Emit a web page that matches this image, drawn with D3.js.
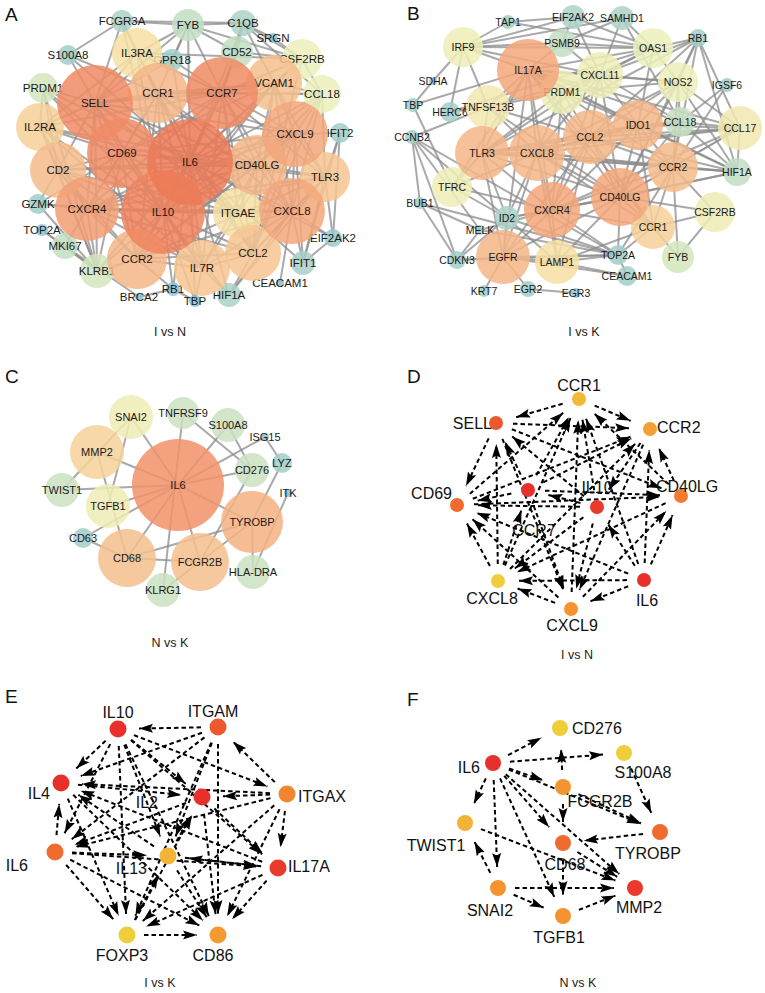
<!DOCTYPE html>
<html><head><meta charset="utf-8">
<script src="https://cdn.jsdelivr.net/npm/d3@7"></script>
<style>body{margin:0;background:#fff} svg{display:block}</style>
</head><body><svg id="c" width="765" height="993"></svg>
<script>
// ================= DATA =================
// Panel A — PPI network, I vs N : [gene, degree, colour tone]
const nodesA = [
["FCGR3A",8,1.3],["FYB",13,2],["C1QB",10,1.3],["SRGN",2,0],["S100A8",7,1],["IL3RA",22,5],["GPR18",8,1],
["CD52",13,2],["CSF2RB",17,4],["PRDM1",12,3],["SELL",35,8],["CCR1",27,6.5],["CCR7",33,8],["VCAM1",25,6.2],
["CCL18",16,4],["IL2RA",21,5.6],["CXCL9",30,7],["IFIT2",7,1],["CD69",32,8],["IL6",40,9],["CD40LG",27,6.5],
["CD2",25,6.3],["TLR3",22,6],["GZMK",7,1],["CXCR4",29,7.3],["IL10",39,8.5],["ITGAE",22,5],["CXCL8",30,7],
["TOP2A",3,0],["EIF2AK2",6,0.6],["MKI67",10,2],["CCR2",27,6.5],["IL7R",25,6],["CCL2",25,6],["IFIT1",9,1.2],
["KLRB1",14,3],["CEACAM1",1,0],["BRCA2",1,0],["RB1",4,0],["TBP",3,0],["HIF1A",9,1.3]];
const edgesA = [
"IL6>SELL CCR1 CCR7 VCAM1 CXCL9 CD69 CD40LG CD2 TLR3 CXCR4 IL10 ITGAE CXCL8 CCR2 IL7R CCL2 IL2RA IL3RA CCL18 CD52 FYB HIF1A RB1 TBP KLRB1 CSF2RB PRDM1 GPR18 IFIT1 EIF2AK2 S100A8 C1QB",
"IL10>SELL CCR1 CCR7 VCAM1 CXCL9 CD69 CD40LG CD2 TLR3 CXCR4 ITGAE CXCL8 CCR2 IL7R CCL2 IL2RA IL3RA CCL18 KLRB1 GZMK PRDM1 FCGR3A TBP RB1 HIF1A",
"SELL>CCR1 CCR7 CD69 CD2 CXCR4 CCR2 IL7R IL2RA IL3RA FCGR3A FYB S100A8 PRDM1 ITGAE CXCL9 CD40LG VCAM1 KLRB1 GPR18",
"CCR7>CCR1 VCAM1 CXCL9 CD69 CD40LG CXCR4 ITGAE CXCL8 CCR2 IL7R CCL2 IL2RA IL3RA CCL18 C1QB CD52 FYB GPR18 CSF2RB TLR3",
"CD69>CCR1 CD2 CXCR4 CD40LG ITGAE CCR2 IL7R IL2RA KLRB1 PRDM1 CXCL9 VCAM1 GZMK",
"CXCL9>CCR1 VCAM1 CD40LG TLR3 CXCL8 CCL2 CCL18 IFIT1 IFIT2 CXCR4 ITGAE CCR2",
"CXCL8>CCR1 VCAM1 CD40LG TLR3 CCL2 CCR2 CXCR4 EIF2AK2 IFIT1 CEACAM1 IL7R ITGAE CCL18 HIF1A",
"CXCR4>CCR1 CD2 CCR2 CD40LG IL7R CCL2 GZMK MKI67 KLRB1 IL2RA ITGAE TLR3",
"CCR1>VCAM1 CD40LG CCR2 CCL2 IL3RA FYB S100A8 FCGR3A CCL18 IL7R",
"CCR2>CD40LG CCL2 IL7R CD2 KLRB1 RB1 TLR3 VCAM1",
"CD40LG>VCAM1 TLR3 ITGAE CCL2 IL7R CD2 IL2RA CCL18",
"TLR3>IFIT1 IFIT2 EIF2AK2 HIF1A CCL2 VCAM1 CCL18",
"CCL2>IL7R ITGAE VCAM1 HIF1A CCL18 CSF2RB",
"IL7R>ITGAE CD2 IL2RA HIF1A TBP",
"CD2>IL2RA KLRB1 GZMK PRDM1 ITGAE",
"VCAM1>CCL18 CSF2RB C1QB",
"IL2RA>PRDM1 IL3RA KLRB1",
"IL3RA>FYB FCGR3A GPR18 CSF2RB",
"FYB>FCGR3A C1QB CD52 GPR18 CSF2RB",
"C1QB>FCGR3A SRGN CD52 CSF2RB CCL18",
"CSF2RB>SRGN CCL18 CD52",
"FCGR3A>S100A8","PRDM1>KLRB1","KLRB1>MKI67 TOP2A GZMK","MKI67>TOP2A BRCA2",
"IFIT1>IFIT2 EIF2AK2","IFIT2>EIF2AK2","RB1>TBP BRCA2"];
const layoutA = {FCGR3A:[122,21],FYB:[188,25],C1QB:[243,23],SRGN:[273,38],S100A8:[68,55],IL3RA:[137,53],GPR18:[172,60],
CD52:[237,52],CSF2RB:[302,59],PRDM1:[43,88],SELL:[95,103],CCR1:[158,93],CCR7:[222,93],VCAM1:[274,83],CCL18:[322,94],
IL2RA:[40,127],CXCL9:[295,134],IFIT2:[340,133],CD69:[122,153],IL6:[190,162],CD40LG:[257,165],CD2:[58,170],TLR3:[325,177],
GZMK:[38,204],CXCR4:[87,209],IL10:[163,212],ITGAE:[238,213],CXCL8:[292,211],TOP2A:[42,230],EIF2AK2:[333,238],MKI67:[65,246],
CCR2:[137,259],IL7R:[202,268],CCL2:[253,253],IFIT1:[303,263],KLRB1:[97,271],CEACAM1:[280,283],BRCA2:[139,297],RB1:[173,289],
TBP:[195,301],HIF1A:[229,295]};

// Panel B — PPI network, I vs K
const nodesB = [
["TAP1",4,1],["EIF2AK2",9,1.3],["SAMHD1",9,1.3],["IRF9",17,4.2],["PSMB9",11,2],["OAS1",17,4],["RB1",6,1],
["SDHA",1,0.5],["CXCL11",20,4.2],["PRDM1",19,4.2],["IL17A",28,7],["NOS2",17,4],["IGSF6",4,1],["TBP",4,1],["HERC6",7,1],
["TNFSF13B",19,4.5],["IDO1",22,6.5],["CCL18",12,2.2],["CCL17",19,4.5],["CCNB2",4,1],["TLR3",24,6.5],["CXCL8",25,6.5],
["CCL2",24,6.5],["CCR2",22,6.3],["HIF1A",11,2],["TFRC",17,4.2],["BUB1",3,1],["CD40LG",26,7],["CXCR4",25,7],
["CSF2RB",17,4.3],["ID2",9,1.3],["MELK",2,0.5],["CCR1",19,5.6],["EGFR",24,6.5],["LAMP1",19,5],["TOP2A",7,1],
["FYB",13,3],["CDKN3",6,1],["CEACAM1",7,1],["KRT7",3,1],["EGR2",5,1],["EGR3",2,0.5]];
const edgesB = [
"IL17A>TBP CXCL8 TLR3 CCL2 CXCR4 CD40LG IDO1 CCR2 CXCL11 PRDM1 TNFSF13B NOS2 IRF9 PSMB9 CCL17 HIF1A CCL18 EGFR TFRC CCR1 OAS1",
"CD40LG>CXCL8 TLR3 CCL2 CXCR4 IDO1 CCR2 CCR1 CCL17 CCL18 HIF1A CXCL11 NOS2 EGFR LAMP1 ID2 TOP2A TNFSF13B CSF2RB RB1",
"CXCR4>CXCL8 TLR3 CCL2 IDO1 CCR2 CCR1 EGFR LAMP1 ID2 TOP2A TFRC CXCL11 PRDM1 CCL17 HIF1A MELK",
"CXCL8>TLR3 CCL2 IDO1 CCR2 CCR1 EGFR LAMP1 ID2 TFRC CXCL11 PRDM1 TNFSF13B CCL17 HIF1A NOS2",
"CCL2>TLR3 IDO1 CCR2 CCR1 CXCL11 PRDM1 NOS2 CCL17 CCL18 HIF1A EGFR RB1 TNFSF13B LAMP1",
"TLR3>IDO1 CCR2 CXCL11 PRDM1 TNFSF13B TFRC EGFR ID2 CCL17 RB1 HIF1A",
"IDO1>CCR2 CXCL11 NOS2 CCL18 CCL17 PRDM1 OAS1 HIF1A CCR1",
"CCR2>CCR1 CCL17 CCL18 HIF1A CSF2RB TOP2A RB1 NOS2 FYB IGSF6",
"CXCL11>OAS1 PSMB9 NOS2 PRDM1 IRF9 EIF2AK2 SAMHD1 RB1 CCL18 TNFSF13B",
"PRDM1>TNFSF13B NOS2 OAS1","NOS2>OAS1 CCL18 CCL17 RB1 HIF1A",
"OAS1>IRF9 PSMB9 EIF2AK2 SAMHD1 TAP1 RB1 HERC6",
"IRF9>PSMB9 TAP1 EIF2AK2 SAMHD1 SDHA HERC6 TNFSF13B",
"EIF2AK2>TAP1 PSMB9","SAMHD1>PSMB9 CCL18","CCL17>HIF1A CCL18","CCL18>HIF1A IGSF6","RB1>HIF1A CCL17",
"CCR1>CSF2RB FYB LAMP1 TOP2A","CSF2RB>FYB",
"EGFR>LAMP1 TOP2A ID2 CDKN3 KRT7 EGR2 CEACAM1","LAMP1>TOP2A CEACAM1 ID2",
"TOP2A>CCNB2 BUB1 CDKN3 MELK CEACAM1 ID2","CCNB2>BUB1 CDKN3 MELK TNFSF13B ID2",
"BUB1>CDKN3 MELK","CDKN3>MELK ID2","TBP>SDHA TFRC","EGR2>EGR3","TFRC>ID2","HERC6>TNFSF13B"];
const layoutB = {TAP1:[123,22],EIF2AK2:[188,17],SAMHD1:[237,18],IRF9:[78,47],PSMB9:[177,43],IL17A:[143,70],OAS1:[268,48],
RB1:[313,38],SDHA:[48,81],CXCL11:[215,75],PRDM1:[177,92],NOS2:[293,82],IGSF6:[342,85],TBP:[28,105],HERC6:[65,112],
TNFSF13B:[103,107],IDO1:[253,125],CCL18:[295,122],CCL17:[355,128],CCNB2:[27,137],TLR3:[97,153],CXCL8:[152,153],
CCL2:[205,137],CCR2:[288,167],HIF1A:[352,172],TFRC:[67,187],BUB1:[35,203],CD40LG:[235,197],CXCR4:[167,210],
CSF2RB:[330,212],ID2:[122,218],MELK:[95,230],CCR1:[268,227],EGFR:[118,257],LAMP1:[172,262],TOP2A:[233,255],
FYB:[293,257],CDKN3:[72,260],CEACAM1:[242,276],KRT7:[99,291],EGR2:[143,289],EGR3:[191,293]};

// Panel C — PPI network, N vs K
const nodesC = [
["SNAI2",19,4.3],["TNFRSF9",13,2.5],["S100A8",14,2.5],["ISG15",1,0],["MMP2",24,5.5],["LYZ",7,1],["CD276",14,2.5],
["IL6",43,7.8],["TWIST1",14,2.5],["TGFB1",19,4.3],["ITK",1,0],["TYROBP",28,6.6],["CD63",7,1],["CD68",26,6.2],
["HLA-DRA",14,2.5],["FCGR2B",26,6.2],["KLRG1",14,2.5]];
const edgesC = [
"IL6>SNAI2 MMP2 TWIST1 TGFB1 CD63 TYROBP CD68 FCGR2B S100A8 ISG15 CD276",
"SNAI2>TGFB1 TWIST1","MMP2>CD68","TNFRSF9>KLRG1 CD276","S100A8>CD276","ISG15>LYZ","LYZ>TYROBP",
"CD276>FCGR2B","ITK>HLA-DRA","CD68>TYROBP FCGR2B CD63","TYROBP>HLA-DRA KLRG1"];
const layoutC = {SNAI2:[131,87],TNFRSF9:[183,83],S100A8:[228,95],ISG15:[265,107],MMP2:[97,122],LYZ:[282,133],
CD276:[252,140],IL6:[178,155],TWIST1:[62,160],TGFB1:[108,176],ITK:[288,163],TYROBP:[252,192],CD63:[83,208],
CD68:[127,228],FCGR2B:[200,232],"HLA-DRA":[253,242],KLRG1:[163,260]};

// Panels D–F — directed regulatory networks : [gene, score]
const nodesD = [["CCR1",0.15],["SELL",0.8],["CCR2",0.35],["CD69",0.7],["CCR7",1],["IL10",0.95],
["CD40LG",0.6],["CXCL8",0],["IL6",1],["CXCL9",0.45]];
const edgesD = [
"CCR1>SELL CCR2","CCR7>CCR1 CCR2 CD40LG SELL CD69 CXCL9","IL10>CCR1 SELL CD69 CXCL8 CXCL9 CCR7",
"CXCL9>CCR1 CD40LG CD69 CXCL8","CXCL8>CCR1 CCR2 SELL CD69 CCR7",
"IL6>CCR1 CCR2 CD40LG CD69 CXCL8 CXCL9 IL10","CD69>CCR1 CCR2 CD40LG",
"CD40LG>CCR1 CCR2 CD69 CXCL8","SELL>CCR2 CD69 CXCL9 CD40LG",
"CCR2>CD69 CXCL9 IL10","CXCL9>SELL"];
const nodesE = [["IL10",1],["ITGAM",0.8],["IL4",1],["IL2",1],["ITGAX",0.55],["IL6",0.7],["IL13",0.2],
["IL17A",0.95],["FOXP3",0],["CD86",0.4]];
const edgesE = [
"ITGAM>IL10 IL4 IL6 IL13 CD86 FOXP3","IL10>IL4 IL2 ITGAX FOXP3 IL13 IL17A CD86 IL6",
"ITGAX>ITGAM IL2 IL17A IL4 IL6 CD86 FOXP3","IL4>IL2 CD86 FOXP3","IL6>IL4 FOXP3 IL13 CD86 IL17A",
"IL2>IL17A CD86 IL6","IL13>IL17A IL2 IL4 CD86","IL17A>IL13 IL4 IL6 CD86 FOXP3","FOXP3>CD86 IL13 IL2","CD86>IL2 IL4"];
const bidirectionalE = ["IL13|IL17A"];
const nodesF = [["CD276",0],["IL6",1],["S100A8",0],["FCGR2B",0.45],["TWIST1",0.2],["TYROBP",0.7],
["CD68",0.7],["SNAI2",0.45],["MMP2",0.95],["TGFB1",0.45]];
const edgesF = [
"IL6>CD276 S100A8 FCGR2B TWIST1 SNAI2 TGFB1 CD68 MMP2 TYROBP","FCGR2B>CD276 CD68 TYROBP",
"S100A8>TYROBP","TYROBP>CD68","CD68>MMP2 TGFB1","TWIST1>MMP2","SNAI2>TWIST1 MMP2 TGFB1","TGFB1>MMP2"];

// layouts for D–F: position and label placement [x, y, anchor, dx, dy]
const layoutD = {CCR1:[194,69,"middle",0,-14],SELL:[111,93,"end",-4,0],CCR2:[265,99,"start",7,-2],
CD69:[72,175,"end",-5,-12],CCR7:[143,160,"middle",6,40],IL10:[212,177,"middle",0,-20],CD40LG:[296,166,"middle",6,-10],
CXCL8:[113,251,"middle",-6,17],IL6:[259,250,"middle",3,20],CXCL9:[186,279,"middle",1,16]};
const layoutE = {IL10:[118,79,"middle",0,-17],ITGAM:[218,77,"middle",-5,-16],IL4:[61,133,"end",-11,10],
IL2:[202,147,"end",-44,5],ITGAX:[287,144,"start",11,2],IL6:[55,202,"end",-27,13],IL13:[168,206,"end",-21,12],
IL17A:[278,218,"start",10,-2],FOXP3:[127,285,"middle",-5,20],CD86:[218,285,"middle",-5,20]};
const layoutF = {CD276:[175,78,"start",12,0],IL6:[108,113,"end",-13,4],S100A8:[239,103,"middle",19,19],
FCGR2B:[178,137,"middle",37,14],TWIST1:[80,173,"middle",-29,22],TYROBP:[275,182,"middle",-12,21],
CD68:[178,193,"middle",2,21],SNAI2:[113,238,"middle",-8,22],MMP2:[250,238,"middle",4,19],TGFB1:[178,266,"middle",-4,21]};

const panelLetters = ["A","B","C","D","E","F"];
const panelTitles = ["I vs N","I vs K","N vs K","I vs N","I vs K","N vs K"];

// ================= DRAWING =================
const FONT = '"Liberation Sans", Arial, Helvetica, sans-serif';
const svg = d3.select("#c");
svg.append("rect").attr("width",765).attr("height",993).attr("fill","#fff");

const origins = [[0,0],[385,0],[0,330],[385,330],[0,650],[385,650]];
const letterPos = [[5,21],[22,20],[5,53],[22,53],[5,53],[22,56]];
const titlePos = [[170,336],[199,336],[170,317],[192,329],[160,337],[193,337]];

function parseEdges(list){
  const out=[], seen=new Set();
  list.forEach(s=>{const [a,b]=s.split(">");
    b.trim().split(/\s+/).forEach(t=>{const k=a+">"+t; if(!seen.has(k)){seen.add(k);out.push([a.trim(),t]);}});});
  return out;
}
function dedupUndirected(e, allow){
  const ok=new Set(allow||[]);
  const seen=new Set(); return e.filter(([a,b])=>{const k=[a,b].sort().join("|");
    if(seen.has(k) && !ok.has(k))return false; seen.add(k); return true;});
}

const tone = d3.scaleLinear().domain([0,1,2,3,4,5,6,7,8,9])
  .range(["#8cc3d6","#a2cec9","#c3dec3","#d5e6bd","#ecf0bb","#f6e0a4","#f6c592","#f3a67b","#f08c66","#ed7a56"]);
const heat = d3.scaleLinear().domain([0,0.25,0.5,0.75,1])
  .range(["#f0cd3a","#f3ac36","#f38e30","#ee6230","#e8302a"]);

svg.selectAll("text.letter").data(panelLetters).join("text").attr("class","letter")
  .attr("x",(d,i)=>origins[i][0]+letterPos[i][0]).attr("y",(d,i)=>origins[i][1]+letterPos[i][1])
  .attr("font-family",FONT).attr("font-size",19).attr("fill","#111").text(d=>d);
svg.selectAll("text.ptitle").data(panelTitles).join("text").attr("class","ptitle")
  .attr("x",(d,i)=>origins[i][0]+titlePos[i][0]).attr("y",(d,i)=>origins[i][1]+titlePos[i][1])
  .attr("text-anchor","middle").attr("font-family",FONT).attr("font-size",12.5).attr("fill","#222").text(d=>d);

function ppiPanel(idx, nodeData, layout, edgeList, degDomain, rRange, fontSize){
  const [ox,oy]=origins[idx];
  const x=d3.scaleLinear().domain([0,380]).range([ox,ox+380]);
  const y=d3.scaleLinear().domain([0,330]).range([oy,oy+330]);
  const r=d3.scaleLinear().domain(degDomain).range(rRange);
  const nodes=nodeData.map(([id,deg,t])=>({id,deg,t,x:x(layout[id][0]),y:y(layout[id][1])}));
  const by=new Map(nodes.map(n=>[n.id,n]));
  const edges=dedupUndirected(parseEdges(edgeList)).filter(([a,b])=>by.has(a)&&by.has(b));
  const g=svg.append("g");
  g.append("g").selectAll("line").data(edges).join("line")
    .attr("x1",d=>by.get(d[0]).x).attr("y1",d=>by.get(d[0]).y)
    .attr("x2",d=>by.get(d[1]).x).attr("y2",d=>by.get(d[1]).y)
    .attr("stroke","#8c8c8c").attr("stroke-width",2).attr("stroke-opacity",0.75);
  const ng=g.append("g").selectAll("g").data(nodes.slice().sort((a,b)=>a.deg-b.deg)).join("g");
  ng.append("circle").attr("cx",d=>d.x).attr("cy",d=>d.y).attr("r",d=>r(d.deg))
    .attr("fill",d=>tone(d.t)).attr("fill-opacity",0.86);
  ng.append("text").attr("x",d=>d.x).attr("y",d=>d.y).attr("dy","0.35em").attr("text-anchor","middle")
    .attr("font-family",FONT).attr("font-size",fontSize).attr("fill","#1a1a1a").text(d=>d.id);
}

function grnPanel(idx, nodeData, layout, edgeList, radius, allowBoth){
  const [ox,oy]=origins[idx];
  const x=d3.scaleLinear().domain([0,380]).range([ox,ox+380]);
  const y=d3.scaleLinear().domain([0,330]).range([oy,oy+330]);
  const nodes=nodeData.map(([id,s])=>({id,s,L:layout[id],x:x(layout[id][0]),y:y(layout[id][1])}));
  const by=new Map(nodes.map(n=>[n.id,n]));
  const edges=dedupUndirected(parseEdges(edgeList),allowBoth).filter(([a,b])=>by.has(a)&&by.has(b));
  const g=svg.append("g");
  const mid="arr"+idx;
  svg.append("defs").append("marker").attr("id",mid).attr("markerUnits","userSpaceOnUse")
    .attr("markerWidth",15).attr("markerHeight",10).attr("refX",14).attr("refY",5).attr("orient","auto")
    .append("path").attr("d","M0,0.5 L14,5 L0,9.5 L2.5,5 Z").attr("fill","#000");
  const s0=17, s1=21;
  g.append("g").selectAll("line").data(edges).join("line")
    .each(function(d){
      const a=by.get(d[0]), b=by.get(d[1]);
      const dx=b.x-a.x, dy=b.y-a.y, L=Math.hypot(dx,dy), ux=dx/L, uy=dy/L;
      d3.select(this).attr("x1",a.x+ux*s0).attr("y1",a.y+uy*s0).attr("x2",b.x-ux*s1).attr("y2",b.y-uy*s1);
    })
    .attr("stroke","#000").attr("stroke-width",2).attr("stroke-dasharray","4.5,3")
    .attr("marker-end",`url(#${mid})`);
  const ng=g.append("g").selectAll("g").data(nodes).join("g");
  ng.append("circle").attr("cx",d=>d.x).attr("cy",d=>d.y).attr("r",radius).attr("fill",d=>heat(d.s));
  ng.append("text").attr("x",d=>d.x+d.L[3]).attr("y",d=>d.y+d.L[4]).attr("dy","0.35em")
    .attr("text-anchor",d=>d.L[2]).attr("font-family",FONT).attr("font-size",16).attr("fill","#111").text(d=>d.id);
}

ppiPanel(0,nodesA,layoutA,edgesA,[1,40],[4,43],11.5);
ppiPanel(1,nodesB,layoutB,edgesB,[1,28],[4,31],10.5);
ppiPanel(2,nodesC,layoutC,edgesC,[1,43],[4,46],11);
grnPanel(3,nodesD,layoutD,edgesD,7);
grnPanel(4,nodesE,layoutE,edgesE,8.5,bidirectionalE);
grnPanel(5,nodesF,layoutF,edgesF,8);
</script></body></html>
